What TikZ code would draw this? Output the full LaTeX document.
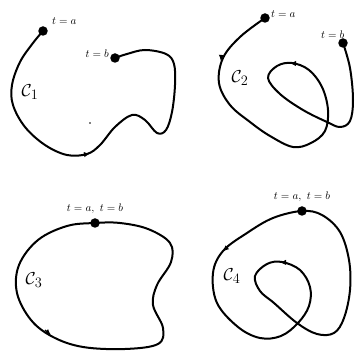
\documentclass[tikz,border=0pt]{standalone}
\usepackage{amsmath}
\usepackage{amssymb}
\usetikzlibrary{arrows.meta,positioning}

\begin{document}
\begin{tikzpicture}[
    x=1pt, y=-1pt,
    curve/.style={line width=2pt, line join=round},
    dot/.style={circle, fill, inner sep=0pt, minimum size=9.5pt},
    lbl/.style={inner sep=1pt, font=\fontsize{11}{13}\selectfont},
    cname/.style={inner sep=1pt, font=\fontsize{19}{22}\selectfont},
    midarr/.style={-{Latex[length=6pt, width=5.5pt]}, line width=1.2pt}
]
\useasboundingbox (0,0) rectangle (357,352);

% C_1 : open curve
\draw[curve] plot[smooth, tension=0.6] coordinates {(43,31) (33,43) (20,62) (12,85) (13,105) (25,127) (45,145) (67,155) (87,154) (100,145) (115,127) (132,115) (145,120) (157,133) (166,130) (172,112) (175,85) (174,64) (166,54) (145,50) (127,54) (115,58)};
\node[dot] (a1) at (43,31) {};
\node[dot] (b1) at (115,58) {};
\node[lbl, right=3pt of a1, yshift=10pt] (ta1) {$t=a$};
\node[lbl, left=0pt of b1, yshift=4pt] (tb1) {$t=b$};
\node[cname] (c1) at (30,92) {$\mathcal{C}_1$};
\fill (90,123) circle (0.8pt);
\draw[midarr] (84,154.6) -- (90,153.7);

% C_2 : open curve crossing itself
\draw[curve] plot[smooth, tension=0.6] coordinates {(265,18) (240,37) (223,58) (219,83) (230,105) (250,122) (270,136) (293,147) (311,143) (325,131) (328,110) (322,87) (309,70) (292,63) (277,66) (268,78) (280,94) (303,110) (327,122) (340,127) (350,121) (353,100) (350,68) (343,43)};
\node[dot] (a2) at (265,18) {};
\node[dot] (b2) at (343,43) {};
\node[lbl, right=0pt of a2, yshift=4pt] (ta2) {$t=a$};
\node[lbl, above left=0pt and -6pt of b2] (tb2) {$t=b$};
\node[cname] (c2) at (240,78) {$\mathcal{C}_2$};
\draw[midarr] (221.5,55) -- (220.8,61);
\draw[midarr] (296,63.5) -- (290,63.3);

% C_3 : simple closed curve
\draw[curve] plot[smooth cycle, tension=0.6] coordinates {(95,223) (67,226) (38,240) (19,265) (17,293) (31,320) (53,337) (83,347) (125,349) (158,344) (163,328) (153,305) (157,285) (171,262) (170,243) (148,229) (120,223)};
\node[dot] (a3) at (95,223) {};
\node[lbl, above=3pt of a3] (t3) {$t=a,\ t=b$};
\node[cname] (c3) at (34,280) {$\mathcal{C}_3$};
\draw[midarr] (45,330) -- (51,335);

% C_4 : closed curve crossing itself
\draw[curve] plot[smooth cycle, tension=0.6] coordinates {(302,211) (273,218) (247,233) (223,251) (213,273) (217,303) (238,327) (260,338) (281,336) (298,323) (309,306) (310,287) (300,270) (282,262) (267,264) (255,276) (260,291) (274,303) (297,323) (317,334) (334,333) (344,318) (350,290) (349,260) (340,232) (322,215)};
\node[dot] (a4) at (302,211) {};
\node[lbl, above=3pt of a4] (t4) {$t=a,\ t=b$};
\node[cname] (c4) at (232,276) {$\mathcal{C}_4$};
\draw[midarr] (228,246.5) -- (223,251.5);
\draw[midarr] (286,262.4) -- (280,262.4);
\end{tikzpicture}
\end{document}
